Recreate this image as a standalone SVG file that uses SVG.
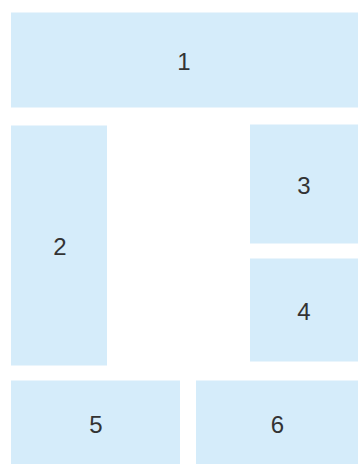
<svg xmlns="http://www.w3.org/2000/svg" width="358" height="464" viewBox="0 0 358 464">
<style>
.box{fill:#d5ecfa;}
.lbl{font-family:"Liberation Sans",Arial,sans-serif;font-size:24px;fill:#333333;text-anchor:middle;}
</style>
<rect width="358" height="464" fill="#ffffff"/>
<g id="node1"><rect class="box" x="11" y="12.5" width="347" height="95"/><text class="lbl" x="184" y="70">1</text></g>
<g id="node2"><rect class="box" x="11" y="125.5" width="96" height="240"/><text class="lbl" x="60" y="255">2</text></g>
<g id="node3"><rect class="box" x="250" y="124.5" width="108" height="119"/><text class="lbl" x="304" y="194">3</text></g>
<g id="node4"><rect class="box" x="250" y="258.5" width="108" height="103"/><text class="lbl" x="304" y="320">4</text></g>
<g id="node5"><rect class="box" x="11" y="380.5" width="169" height="83.5"/><text class="lbl" x="96" y="432.5">5</text></g>
<g id="node6"><rect class="box" x="196" y="380.5" width="162" height="83.5"/><text class="lbl" x="277.5" y="432.5">6</text></g>
<g id="connectors"></g>
</svg>
